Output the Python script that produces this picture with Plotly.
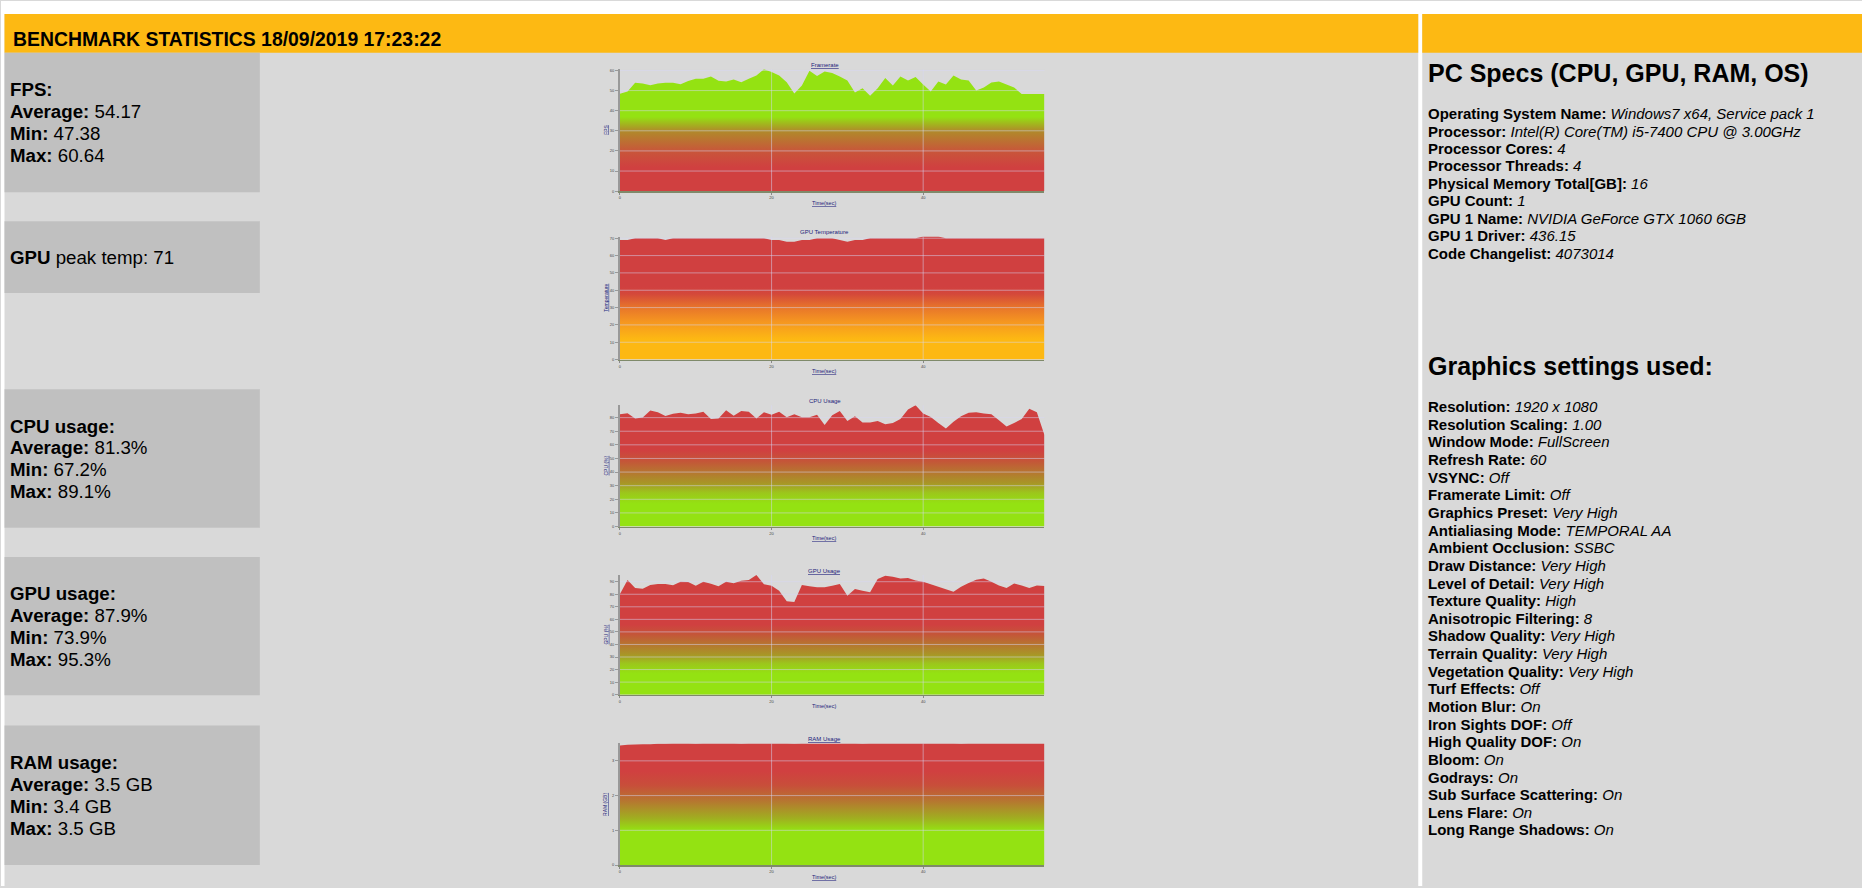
import plotly.graph_objects as go

W, H = 1862, 888

# ---------------- data ----------------
seconds = list(range(57))

fps = [48.4, 49.6, 53.9, 53.5, 52.7, 53.5, 53.9, 53.9, 53.2, 54.7, 55.9, 55.9, 57.0, 54.9, 54.5,
       55.5, 54.2, 55.9, 57.5, 60.64, 59.2, 57.5, 54.2, 48.6, 52.5, 59.8, 57.2, 59.5, 58.7, 57.0,
       55.0, 49.1, 51.2, 47.38, 51.2, 56.2, 52.5, 57.0, 55.0, 56.8, 53.0, 49.5, 54.5, 53.0, 57.5,
       55.5, 55.0, 50.0, 51.5, 54.0, 54.5, 53.0, 51.5, 48.3, 48.3, 48.3, 48.3]

gpu_temp = [69, 69, 70, 70, 70, 70, 69, 70, 70, 70, 70, 70, 70, 70, 70, 70, 70, 70, 70,
            70, 69, 69, 68, 68, 69, 69, 70, 70, 70, 69, 68, 69, 69, 70, 70, 70,
            70, 70, 70, 70, 71, 71, 71, 70, 70, 70, 70, 70, 70, 70, 70, 70, 70, 70, 70, 70, 70]

cpu_usage = [82.4, 83.3, 79.3, 80.0, 85.2, 84.0, 81.2, 82.9, 83.6, 82.4, 83.1, 84.3, 79.0, 79.3,
             85.5, 81.4, 84.8, 84.3, 79.3, 84.0, 82.1, 84.3, 80.2, 82.4, 80.2, 80.2, 82.1, 74.5,
             81.7, 84.8, 77.6, 81.0, 76.4, 76.4, 77.6, 75.2, 76.0, 79.0, 86.0, 89.1, 83.0, 80.5,
             76.0, 72.0, 77.0, 81.0, 83.5, 84.0, 83.0, 82.5, 78.0, 73.5, 76.0, 79.0, 86.5, 84.0, 67.2]

gpu_usage = [80.1, 91.3, 84.9, 84.4, 87.3, 88.1, 88.1, 87.1, 90.0, 89.7, 86.8, 90.0, 88.4, 86.3,
             90.0, 88.7, 90.8, 91.3, 95.3, 87.9, 86.8, 82.8, 74.5, 73.9, 87.3, 86.3, 85.5, 85.5,
             86.8, 88.1, 78.8, 84.1, 82.8, 81.5, 92.1, 94.8, 94.0, 92.5, 93.0, 91.0, 90.0, 88.0,
             86.0, 84.0, 82.0, 86.0, 89.0, 91.5, 92.5, 90.0, 87.0, 85.0, 88.5, 87.0, 85.0, 87.0, 86.5]

ram_usage = [3.44, 3.46, 3.47, 3.48, 3.48, 3.49, 3.49, 3.5, 3.5, 3.5, 3.49, 3.5, 3.5, 3.5, 3.5,
             3.5, 3.49, 3.5, 3.5, 3.5, 3.5, 3.5, 3.5, 3.49, 3.5, 3.5, 3.5, 3.5, 3.5, 3.5,
             3.5, 3.5, 3.49, 3.5, 3.5, 3.5, 3.5, 3.5, 3.5, 3.5, 3.5, 3.5, 3.5, 3.5, 3.5,
             3.49, 3.5, 3.5, 3.5, 3.5, 3.5, 3.5, 3.5, 3.5, 3.5, 3.5, 3.5]

x_tick_values = [0, 20, 40]
y_tick_steps = [10, 10, 10, 10, 1]

chart_titles = ["Framerate", "GPU Temperature", "CPU Usage", "GPU Usage", "RAM Usage"]
chart_title_underline = [True, False, False, True, True]
y_titles = ["FPS", "Temperature", "CPU (%)", "GPU (%)", "RAM (GB)"]
x_title = "Time(sec)"
x_title_underline = [True, True, True, False, True]

header_title = "BENCHMARK STATISTICS 18/09/2019 17:23:22"

stat_labels = ["Average", "Min", "Max"]
fps_stats = ["54.17", "47.38", "60.64"]
cpu_stats = ["81.3%", "67.2%", "89.1%"]
gpu_stats = ["87.9%", "73.9%", "95.3%"]
ram_stats = ["3.5 GB", "3.4 GB", "3.5 GB"]
gpu_peak_temp = "71"

spec_heading = "PC Specs (CPU, GPU, RAM, OS)"
spec_labels = ["Operating System Name", "Processor", "Processor Cores", "Processor Threads",
               "Physical Memory Total[GB]", "GPU Count", "GPU 1 Name", "GPU 1 Driver",
               "Code Changelist"]
spec_values = ["Windows7 x64, Service pack 1", "Intel(R) Core(TM) i5-7400 CPU @ 3.00GHz", "4", "4",
               "16", "1", "NVIDIA GeForce GTX 1060 6GB", "436.15", "4073014"]

settings_heading = "Graphics settings used:"
setting_labels = ["Resolution", "Resolution Scaling", "Window Mode", "Refresh Rate", "VSYNC",
                  "Framerate Limit", "Graphics Preset", "Antialiasing Mode", "Ambient Occlusion",
                  "Draw Distance", "Level of Detail", "Texture Quality", "Anisotropic Filtering",
                  "Shadow Quality", "Terrain Quality", "Vegetation Quality", "Turf Effects",
                  "Motion Blur", "Iron Sights DOF", "High Quality DOF", "Bloom", "Godrays",
                  "Sub Surface Scattering", "Lens Flare", "Long Range Shadows"]
setting_values = ["1920 x 1080", "1.00", "FullScreen", "60", "Off", "Off", "Very High",
                  "TEMPORAL AA", "SSBC", "Very High", "Very High", "High", "8", "Very High",
                  "Very High", "Very High", "Off", "On", "Off", "On", "On", "On", "On", "On", "On"]

# ---------------- styles ----------------
GREEN = "rgb(148,226,18)"
RED = "rgb(208,64,64)"
AMBER = "rgb(253,184,19)"
HEADER = "#FDB913"
PAGE_BG = "#D9D9D9"
BOX_BG = "#C0C0C0"
NAVY = "#1c1c7a"
FONT = "Arial, Liberation Sans, sans-serif"

# gradient stops in data units (value, colour)
fps_grad = [(0, RED), (12, RED), (20, "rgb(200,86,58)"), (30, "rgb(176,138,42)"), (37, GREEN), (60.64, GREEN)]
temp_grad = [(0, AMBER), (12, AMBER), (22, "rgb(245,150,32)"), (30, "rgb(232,118,42)"), (38, "rgb(212,72,58)"), (42, RED), (71, RED)]
usage_grad = [(0, GREEN), (17, GREEN), (25, "rgb(156,198,28)"), (32, "rgb(168,150,38)"), (40, "rgb(182,118,48)"), (48, "rgb(196,86,56)"), (56, RED), (100, RED)]
ram_grad = [(0, GREEN), (1.0, GREEN), (1.35, "rgb(160,175,32)"), (1.85, "rgb(182,118,48)"), (2.3, "rgb(200,78,58)"), (2.7, RED), (3.5, RED)]

series = [fps, gpu_temp, cpu_usage, gpu_usage, ram_usage]
grads = [fps_grad, temp_grad, usage_grad, usage_grad, ram_grad]

PLOT_LEFT, PLOT_RIGHT = 619.3, 1044.0
chart_rows = [(68.4, 190.8), (236.3, 359.8), (405.6, 527.3), (576.0, 696.0), (745.0, 867.0)]
stat_boxes = [(52, 192), (221, 293), (389.5, 528.5), (558, 696.5), (727, 867)]
BOX_LEFT, BOX_RIGHT = 3.5, 259
PAD = 2.5  # annotation inner padding compensation


def fx(p):
    return p / W


def fy(p):
    return 1 - p / H


fig = go.Figure()
shapes = []
annotations = []
layout_axes = {}


def note(x, y, text, size, color="#000", xanchor="left", angle=0):
    annotations.append(dict(x=fx(x), y=fy(y), xref="paper", yref="paper", text=text,
                            showarrow=False, xanchor=xanchor, yanchor="middle",
                            textangle=angle, font=dict(family=FONT, size=size, color=color)))


def rect(x0, y0, x1, y1, color):
    shapes.append(dict(type="rect", xref="paper", yref="paper", x0=fx(x0), x1=fx(x1),
                       y0=fy(y1), y1=fy(y0), fillcolor=color, line=dict(width=0), layer="below"))


# page frame
rect(0, 0, W, 13, "white")
rect(0, 0, BOX_LEFT, H, "white")
rect(1418, 0, 1422, H, "white")
rect(BOX_LEFT, 13, 1418, 52, HEADER)
rect(1422, 13, W, 52, HEADER)
for (b0, b1) in stat_boxes:
    rect(BOX_LEFT, b0, BOX_RIGHT, b1, BOX_BG)

note(14 - 3.5, 38.5, "<b>" + header_title + "</b>", 19.4)

# stats texts
LINE = 22
SX = 9.5 - PAD
stat_sets = [("FPS:", fps_stats, 0), ("CPU usage:", cpu_stats, 2), ("GPU usage:", gpu_stats, 3), ("RAM usage:", ram_stats, 4)]
for head, vals, bi in stat_sets:
    top = stat_boxes[bi][0]
    note(SX, top + 37, "<b>" + head + "</b>", 18.7)
    for k, (lab, v) in enumerate(zip(stat_labels, vals)):
        note(SX, top + 37 + LINE * (k + 1), "<b>" + lab + ":</b> " + v, 18.7)
note(SX, (stat_boxes[1][0] + stat_boxes[1][1]) / 2, "<b>GPU</b> peak temp: " + gpu_peak_temp, 18.7)

# right panel
RX = 1428 - PAD
note(RX, 72, "<b>" + spec_heading + "</b>", 25)
for k, (lab, v) in enumerate(zip(spec_labels, spec_values)):
    note(RX, 113 + 17.5 * k, "<b>" + lab + ":</b> <i>" + v + "</i>", 15)
note(RX, 366, "<b>" + settings_heading + "</b>", 25)
for k, (lab, v) in enumerate(zip(setting_labels, setting_values)):
    note(RX, 407 + 17.7 * k, "<b>" + lab + ":</b> <i>" + v + "</i>", 15)

# charts
GRID = "rgba(215,215,245,0.5)"
for i, (vals, grad, (top, bottom)) in enumerate(zip(series, grads, chart_rows)):
    n = "" if i == 0 else str(i + 1)
    xa, ya = "x" + n, "y" + n
    ymax = max(vals)
    cs = [[min(v / ymax, 1.0), c] for v, c in grad if v <= ymax]
    if cs[-1][0] < 1:
        cs.append([1.0, cs[-1][1]])
    fig.add_trace(go.Scatter(x=seconds, y=vals, mode="none", fill="tozeroy",
                             fillgradient=dict(type="vertical", colorscale=cs, start=0, stop=ymax),
                             xaxis=xa, yaxis=ya, hoverinfo="skip", showlegend=False))
    step = y_tick_steps[i]
    yt = [step * k for k in range(int(ymax // step) + 1)]
    layout_axes["xaxis" + n] = dict(domain=[fx(PLOT_LEFT), fx(PLOT_RIGHT)], range=[0, seconds[-1]],
                                    anchor=ya, tickvals=x_tick_values, showgrid=False, zeroline=False,
                                    showline=True, linecolor="#7f8a6a", linewidth=1.5,
                                    ticks="outside", ticklen=2, tickcolor="#888",
                                    tickfont=dict(family=FONT, size=4, color="#444"))
    layout_axes["yaxis" + n] = dict(domain=[fy(bottom), fy(top)], range=[0, ymax], anchor=xa,
                                    tickvals=yt, showgrid=False, zeroline=False, showline=True,
                                    linecolor="#999", linewidth=2, ticks="outside", ticklen=3,
                                    tickcolor="#999", tickfont=dict(family=FONT, size=4, color="#444"))
    for t in yt[1:]:
        shapes.append(dict(type="line", xref=xa + " domain", yref=ya, x0=0, x1=1, y0=t, y1=t,
                           line=dict(color=GRID, width=1), layer="above"))
    for t in x_tick_values[1:]:
        shapes.append(dict(type="line", xref=xa, yref=ya + " domain", x0=t, x1=t, y0=0, y1=1,
                           line=dict(color=GRID, width=1), layer="above"))
    t_txt = chart_titles[i]
    if chart_title_underline[i]:
        t_txt = "<u>" + t_txt + "</u>"
    note(824, top - 4.5, t_txt, 6, NAVY, xanchor="center")
    xt = "<u>" + x_title + "</u>" if x_title_underline[i] else x_title
    note(823, bottom + 11.5, xt, 5.5, NAVY, xanchor="center")
    note(605, (top + bottom) / 2, "<u>" + y_titles[i] + "</u>", 5, NAVY, xanchor="center", angle=-90)

fig.update_layout(width=W, height=H, margin=dict(l=0, r=0, t=0, b=0),
                  paper_bgcolor=PAGE_BG, plot_bgcolor=PAGE_BG, showlegend=False,
                  shapes=shapes, annotations=annotations, **layout_axes)

fig.write_html("out.html", config={"displayModeBar": False, "staticPlot": True},
               post_script="document.body.style.margin='0';document.body.style.overflow='hidden';")
